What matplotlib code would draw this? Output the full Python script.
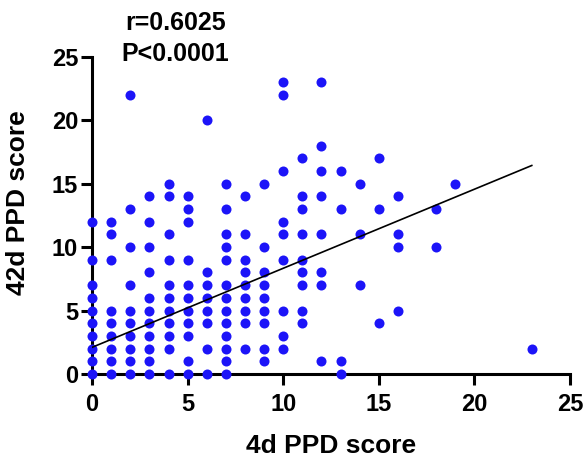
import matplotlib
matplotlib.use('Agg')

import matplotlib.pyplot as plt
import numpy as np

plt.rcParams['font.family'] = ['Liberation Sans', 'DejaVu Sans']
plt.rcParams['font.weight'] = 'bold'

# 42d score values observed at each 4d score
scores_4d = [0, 1, 2, 3, 4, 5, 6, 7, 8, 9, 10, 11, 12, 13, 14, 15, 16, 18, 19, 23]
scores_42d = [
    [12, 9, 7, 6, 5, 4, 3, 2, 1, 0],
    [12, 11, 9, 5, 4, 3, 2, 1, 0],
    [22, 13, 10, 7, 5, 4, 3, 2, 1, 0],
    [14, 12, 10, 8, 6, 5, 4, 3, 2, 1, 0],
    [15, 14, 11, 9, 7, 6, 5, 4, 3, 2, 0],
    [14, 13, 12, 9, 7, 6, 5, 4, 3, 1, 0],
    [20, 8, 7, 6, 5, 4, 2, 0],
    [15, 13, 11, 10, 9, 7, 6, 5, 4, 3, 2, 1, 0],
    [14, 11, 9, 8, 7, 6, 5, 4, 2],
    [15, 10, 8, 7, 6, 5, 4, 2, 1],
    [23, 22, 16, 12, 11, 9, 5, 3, 2],
    [17, 14, 13, 11, 9, 8, 7, 5, 4],
    [23, 18, 16, 14, 11, 8, 7, 1],
    [16, 13, 1, 0],
    [15, 11, 7],
    [17, 13, 4],
    [14, 11, 10, 5],
    [13, 10],
    [15],
    [2],
]

# linear regression fit
fit_intercept = 2.1
fit_slope = 0.623
r_text = 'r=0.6025'
p_text = 'P<0.0001'

x = np.concatenate([[a] * len(b) for a, b in zip(scores_4d, scores_42d)])
y = np.concatenate(scores_42d)

fig = plt.figure(figsize=(5.85, 4.58), dpi=100)
ax = fig.add_axes([0.1573, 0.1834, 0.8171, 0.6928])

ax.scatter(x, y, s=52, color='#1c14f8', linewidths=0, clip_on=False, zorder=3)

fx = np.array([min(scores_4d), max(scores_4d)])
ax.plot(fx, fit_intercept + fit_slope * fx, color='black', lw=1.2, zorder=4)

ax.set_xlim(0, 25)
ax.set_ylim(0, 25)
ax.set_xticks(np.arange(0, 26, 5))
ax.set_yticks(np.arange(0, 26, 5))

for side in ['top', 'right']:
    ax.spines[side].set_visible(False)
for side in ['left', 'bottom']:
    ax.spines[side].set_linewidth(2.2)
ax.tick_params(width=2.2, length=8, labelsize=17)
ax.tick_params(axis='x', pad=6)
ax.tick_params(axis='y', pad=2)

ax.set_xlabel('4d PPD score', fontsize=19, fontweight='bold')
ax.set_ylabel('42d PPD score', fontsize=19, fontweight='bold')
ax.xaxis.set_label_coords(0.5, -0.19)
ax.yaxis.set_label_coords(-0.13, 0.54)

ax.text(0.175, 1.105, r_text, transform=ax.transAxes, ha='center', va='center',
        fontsize=18, fontweight='bold')
ax.text(0.175, 1.01, p_text, transform=ax.transAxes, ha='center', va='center',
        fontsize=18, fontweight='bold')

plt.savefig('out.png', dpi=100)
